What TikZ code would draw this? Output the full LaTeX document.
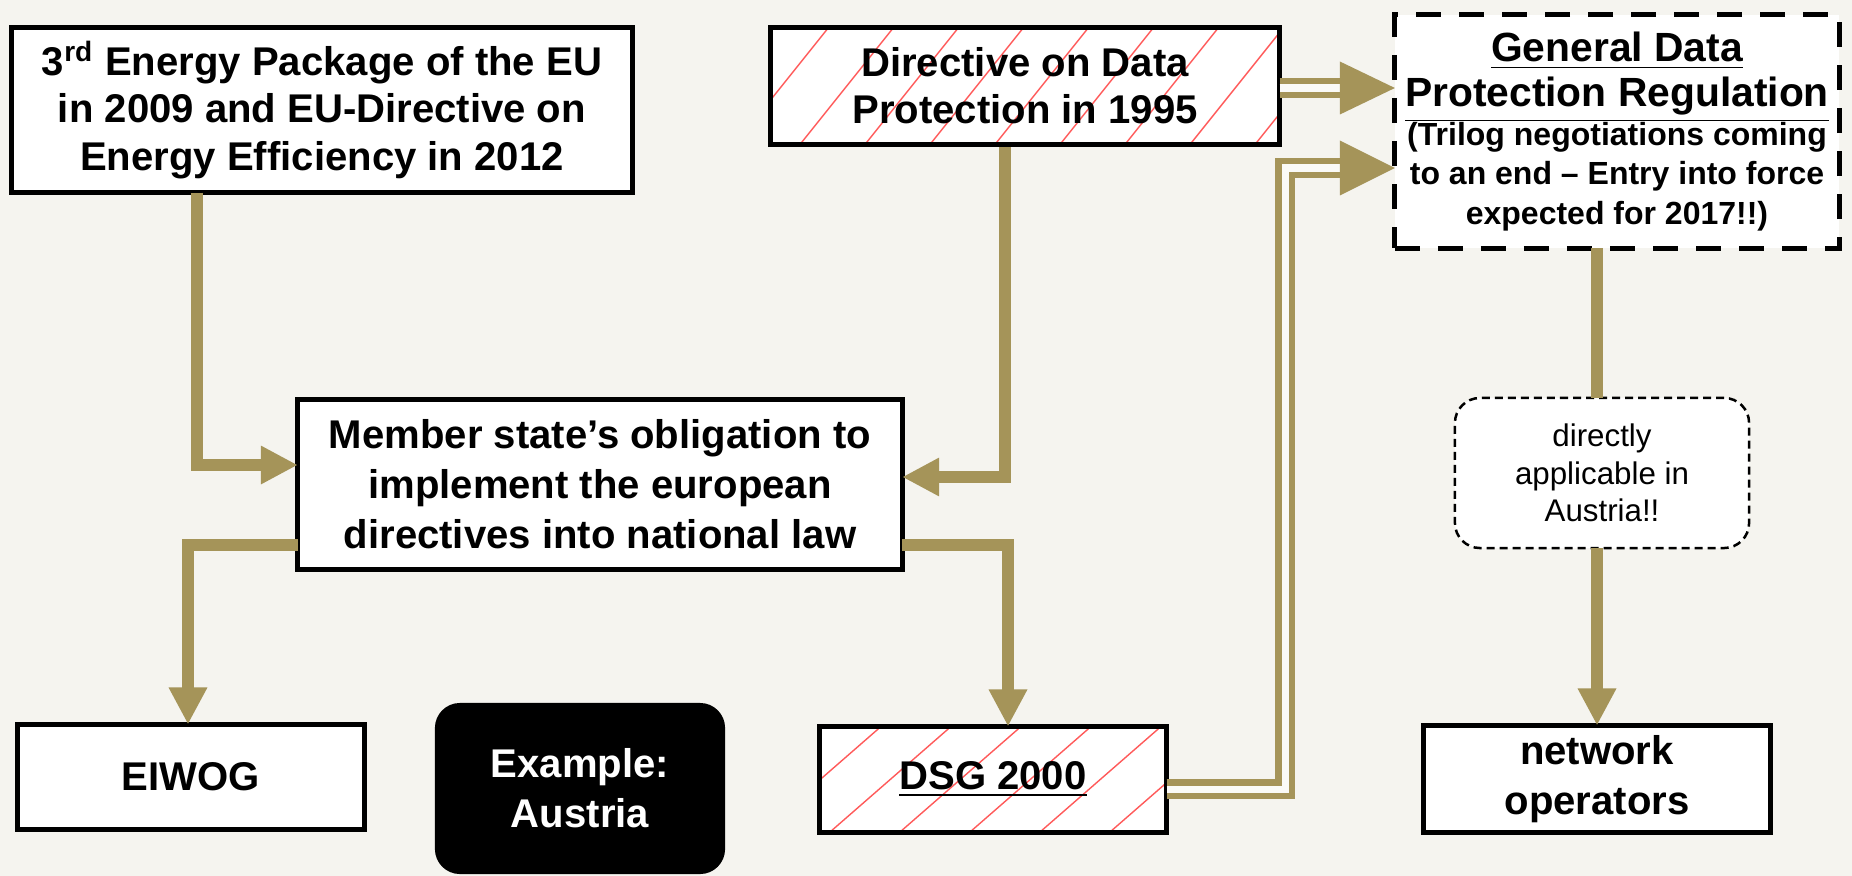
\documentclass[tikz,border=0pt]{standalone}
\usepackage{fontspec}
\setmainfont{Liberation Sans}
\usetikzlibrary{arrows.meta,calc}
\definecolor{bgc}{HTML}{F5F4EF}
\definecolor{goldc}{HTML}{A59459}
\definecolor{hatchred}{HTML}{FF5A5A}
\colorlet{gapc}{white!50!bgc}
\begin{document}
\begin{tikzpicture}[x=0.01cm,y=-0.01cm,
  box/.style={draw=black,line width=0.05cm,fill=white,inner sep=0pt,outer sep=0pt,align=center,
    font=\fontsize{11.4}{13.6}\selectfont\bfseries},
  hatchA/.style={path picture={\foreach \i in {-100,-35,...,520}{\draw[hatchred,line width=0.4pt] ($(path picture bounding box.south west)+(\i,0)$) -- ++(200,-250);}}},
  hatchB/.style={path picture={\foreach \i in {-130,-60,...,360}{\draw[hatchred,line width=0.4pt] ($(path picture bounding box.south west)+(\i,0)$) -- ++(250,-218);}}},
  gbox/.style={draw=black,line width=0.05cm,dash pattern=on 0.25cm off 0.18cm,fill=white,inner sep=0pt,outer sep=0pt},
  dbox/.style={draw=black,line width=0.025cm,dash pattern=on 0.08cm off 0.05cm,fill=white,rounded corners=0.25cm,
    inner sep=0pt,outer sep=0pt,align=center,font=\fontsize{8.9}{10.6}\selectfont},
  exbox/.style={fill=black,text=white,rounded corners=0.25cm,inner sep=0pt,outer sep=0pt,align=center,
    font=\fontsize{11.4}{14.2}\selectfont\bfseries},
  ln/.style={draw=goldc,line width=0.12cm,line join=miter},
  arr/.style={ln,-{Triangle[length=0.37cm,width=0.36cm]}},
  dbl/.style={draw=goldc,line width=0.065cm,double=gapc,double distance=0.07cm,line join=miter,shorten >=0.5cm},
]
\useasboundingbox[fill=bgc] (0,0) rectangle (1852,876);

% boxes
\node[box,minimum width=6.2cm,minimum height=1.65cm] (eu) at (322,110)
  {3\textsuperscript{rd} Energy Package of the EU\\in 2009 and EU-Directive on\\Energy Efficiency in 2012};
\node[box,hatchA,minimum width=5.09cm,minimum height=1.16cm,font=\fontsize{11.4}{13.4}\selectfont\bfseries] (dir) at (1025,86)
  {Directive on Data\\Protection in 1995};
\node[gbox,minimum width=4.44cm,minimum height=2.33cm] (gdpr) at (1617,131.5)
  {\parbox{4.4cm}{\centering\bfseries\fontsize{11.6}{12.8}\selectfont\underline{General Data}\\\underline{Protection Regulation}\par
   \fontsize{9.1}{11.1}\selectfont (Trilog negotiations coming\\to an end – Entry into force\\expected for 2017!!)\par}};
\node[box,minimum width=6.04cm,minimum height=1.7cm,font=\fontsize{11.4}{14.2}\selectfont\bfseries] (mem) at (600,484.5)
  {Member state’s obligation to\\implement the european\\directives into national law};
\node[dbox,minimum width=2.94cm,minimum height=1.5cm] (app) at (1602,473)
  {directly\\applicable in\\Austria!!};
\node[box,minimum width=3.47cm,minimum height=1.05cm] (eiwog) at (191,777) {EIWOG};
\node[exbox,minimum width=2.9cm,minimum height=1.71cm] (ex) at (580,788.5) {Example:\\Austria};
\node[box,hatchB,minimum width=3.47cm,minimum height=1.06cm] (dsg) at (993,779.5) {\underline{DSG 2000}};
\node[box,minimum width=3.47cm,minimum height=1.07cm,font=\fontsize{11.4}{14.2}\selectfont\bfseries] (net) at (1597,779)
  {network\\operators};

% bend points
\coordinate (k1) at (197,465);
\coordinate (k2) at (1005,477);
\coordinate (k3) at (188,545);
\coordinate (k4) at (1008,545);
\coordinate (k5) at (1597,0);
\coordinate (k6) at (0,88);
\coordinate (k7) at (1285,789);
\coordinate (k8) at (1285,168);

% single arrows
\draw[arr] (eu.south -| k1) |- (mem.west |- k1);
\draw[arr] ([yshift=-0.03cm]dir.south -| k2) |- (mem.east |- k2);
\draw[arr] (mem.west |- k3) -| (eiwog.north -| k3);
\draw[arr] (mem.east |- k4) -| (dsg.north -| k4);
\draw[ln] (gdpr.south -| k5) -- (app.north -| k5);
\draw[arr] (app.south -| k5) -- (net.north -| k5);

% double arrows
\draw[dbl] (dir.east |- k6) -- (gdpr.west |- k6);
\fill[goldc] (gdpr.west |- k6) -- ++(-55,-26.5) -- ++(0,53) -- cycle;
\draw[dbl] (dsg.east |- k7) -| (k8) -- (gdpr.west |- k8);
\fill[goldc] (gdpr.west |- k8) -- ++(-55,-27.5) -- ++(0,55) -- cycle;
\end{tikzpicture}
\end{document}
